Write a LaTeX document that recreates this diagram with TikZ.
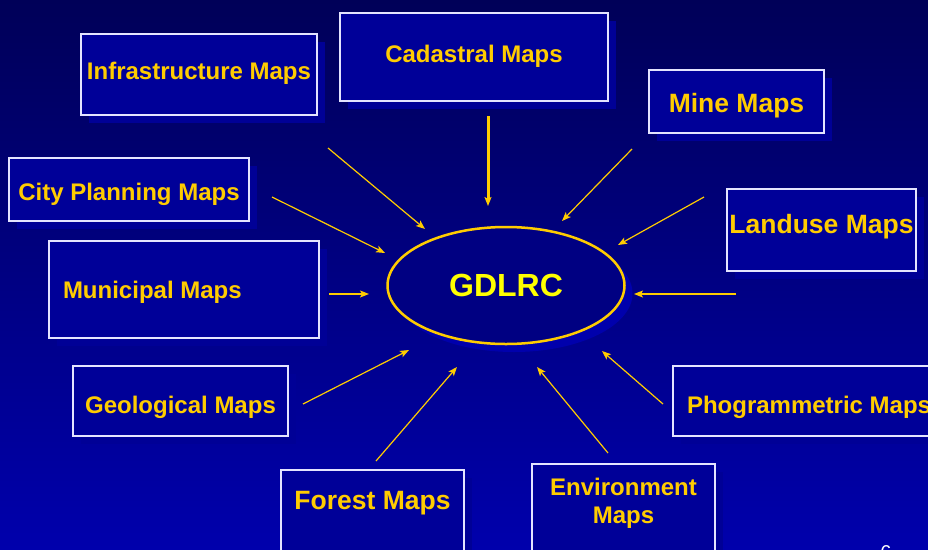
\documentclass[tikz,border=0pt]{standalone}
\usepackage{fontspec}
\setmainfont{Liberation Sans}
\usetikzlibrary{shapes.geometric,arrows.meta,shadows}

\definecolor{slidetop}{RGB}{0,0,88}
\definecolor{slidebottom}{RGB}{0,0,172}
\definecolor{boxblue}{RGB}{0,0,152}
\definecolor{boxshade}{RGB}{0,0,150}
\definecolor{hubfill}{RGB}{0,0,130}
\definecolor{hubshade}{RGB}{0,0,172}
\definecolor{gold}{RGB}{255,204,0}
\definecolor{lemon}{RGB}{255,255,0}
\definecolor{rim}{RGB}{228,228,255}

\tikzset{
  mapbox/.style={draw=rim, line width=1.5pt, fill=boxblue, text=gold,
    inner xsep=0pt, inner ysep=0pt, anchor=base,
    font=\bfseries\fontsize{24}{28}\selectfont,
    drop shadow={shadow xshift=8pt, shadow yshift=-8pt, fill=boxshade, opacity=1}},
  bigmap/.style={font=\bfseries\fontsize{26.5}{31}\selectfont},
  leftmap/.style={align=flush left, inner xsep=14pt},
  hub/.style={ellipse, draw=gold, line width=2.5pt, fill=hubfill, text=lemon,
    minimum width=237pt, minimum height=117pt, inner sep=0pt,
    font=\bfseries\fontsize{32}{38}\selectfont,
    drop shadow={shadow xshift=8pt, shadow yshift=-8pt, fill=hubshade, opacity=1}},
  feed/.style={draw=gold, line width=1.2pt, -{Stealth[length=9pt, width=7pt, inset=2pt]}},
}

\begin{document}
\begin{tikzpicture}[x=1pt, y=-1pt]

   \useasboundingbox (0,0) rectangle (928,549);
   \shade [top color=slidetop, bottom color=slidebottom] (0,0) rectangle (928,549);

   \node (Infrastructure-Maps) at (199,79) [mapbox, minimum width=236pt, text height=45pt, text depth=36pt] {Infrastructure Maps};
   \node (Cadastral-Maps) at (474,62) [mapbox, minimum width=268pt, text height=49pt, text depth=39pt] {Cadastral Maps};
   \node (Mine-Maps) at (736.5,112) [mapbox, bigmap, minimum width=175pt, text height=42pt, text depth=21pt] {Mine Maps};
   \node (Landuse-Maps) at (821.5,233) [mapbox, bigmap, minimum width=189pt, text height=44pt, text depth=38pt] {Landuse Maps};

   \node (City-Planning-Maps) at (129,200) [mapbox, minimum width=240pt, text height=42pt, text depth=21pt] {City Planning Maps};
   \node (Municipal-Maps) at (184,298) [mapbox, leftmap, text width=242pt, text height=57pt, text depth=40pt] {Municipal Maps};
   \node (Geological-Maps) at (180.5,413) [mapbox, minimum width=215pt, text height=47pt, text depth=23pt] {Geological Maps};
   \node (Phogrammetric-Maps) at (811.5,413) [mapbox, leftmap, text width=249pt, text height=47pt, text depth=23pt] {Phogrammetric Maps};

   \node (Forest-Maps) at (372.5,509) [mapbox, bigmap, minimum width=183pt, text height=39pt, text depth=91pt] {Forest Maps};
   \node (Environment-Maps) at (623.5,523) [mapbox, align=center, minimum width=183pt, text height=59pt, text depth=90pt] {Environment\\Maps};

   \node (GDLRC) at (506,285.5) [hub] {GDLRC};

   \node (page-number) at (886,545) [anchor=north, inner sep=0pt, text=white, font=\fontsize{20}{24}\selectfont] {6};

   % arrow ends
   \coordinate (Infrastructure-tail) at (328,148);
   \coordinate (Infrastructure-head) at (425,229);
   \coordinate (Cadastral-tail) at (488,116);
   \coordinate (Cadastral-head) at (488,206);
   \coordinate (Mine-tail) at (632,149);
   \coordinate (Mine-head) at (562,221);
   \coordinate (Landuse-tail) at (704,197);
   \coordinate (Landuse-head) at (618,245);
   \coordinate (East-tail) at (736,294);
   \coordinate (East-head) at (634,294);
   \coordinate (City-Planning-tail) at (272,197);
   \coordinate (City-Planning-head) at (385,253);
   \coordinate (Municipal-tail) at (329,294);
   \coordinate (Municipal-head) at (369,294);
   \coordinate (Geological-tail) at (303,404);
   \coordinate (Geological-head) at (409,350);
   \coordinate (Forest-tail) at (376,461);
   \coordinate (Forest-head) at (457,367);
   \coordinate (Environment-tail) at (608,453);
   \coordinate (Environment-head) at (537,367);
   \coordinate (Phogrammetric-tail) at (663,404);
   \coordinate (Phogrammetric-head) at (602,351);

   \draw [feed] (Infrastructure-tail) -- (Infrastructure-head);
   \draw [feed, line width=3pt] (Cadastral-tail) -- (Cadastral-head);
   \draw [feed] (Mine-tail) -- (Mine-head);
   \draw [feed] (Landuse-tail) -- (Landuse-head);
   \draw [feed] (East-tail) -- (East-head);
   \draw [feed] (City-Planning-tail) -- (City-Planning-head);
   \draw [feed] (Municipal-tail) -- (Municipal-head);
   \draw [feed] (Geological-tail) -- (Geological-head);
   \draw [feed] (Forest-tail) -- (Forest-head);
   \draw [feed] (Environment-tail) -- (Environment-head);
   \draw [feed] (Phogrammetric-tail) -- (Phogrammetric-head);

\end{tikzpicture}
\end{document}
